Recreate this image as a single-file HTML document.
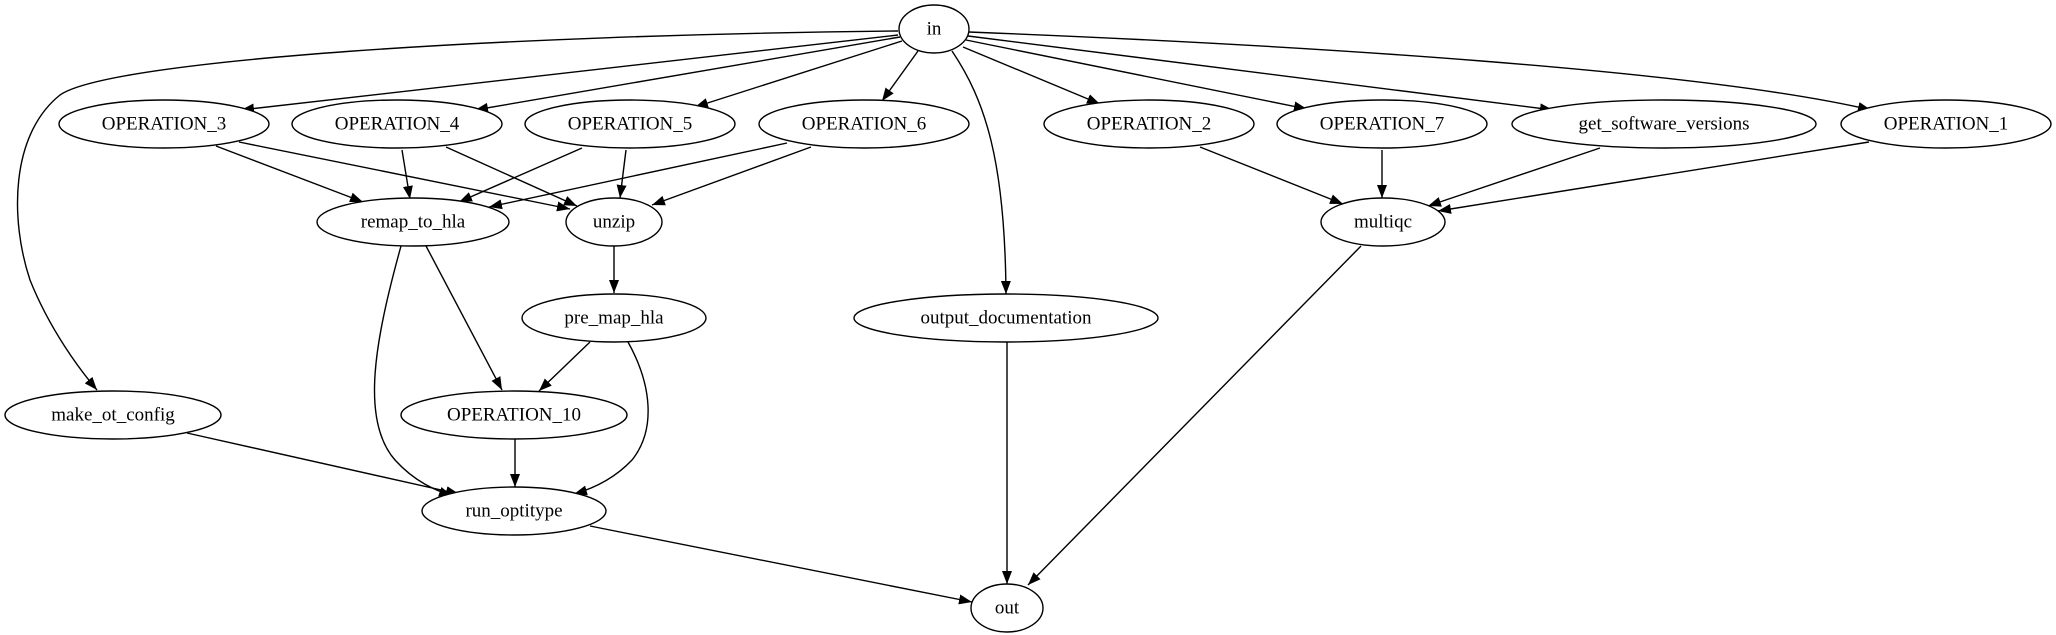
<!DOCTYPE html>
<html><head><meta charset="utf-8"><style>
html,body{margin:0;padding:0;background:#fff;}
svg{display:block;}
text{font-family:"Liberation Serif",serif;font-size:19px;fill:#000;}
</style></head><body>
<svg width="2056" height="635" viewBox="0 0 2056 635" xmlns="http://www.w3.org/2000/svg">
<defs><marker id="a" markerUnits="userSpaceOnUse" markerWidth="14" markerHeight="11" refX="13" refY="5" orient="auto"><path d="M0,0 L13,5 L0,10 z" fill="#000"/></marker></defs>
<g fill="none" stroke="#000" stroke-width="1.4" marker-end="url(#a)">
<path d="M898,31 C500,35 110,60 60,95 C10,135 10,220 30,280 C50,330 80,370 97,390"/>
<path d="M898,35 L241,110"/>
<path d="M900,37 L475,110"/>
<path d="M902,41 L695,107"/>
<path d="M918,51 L882,101"/>
<path d="M952,51 C985,100 1005,160 1006,294"/>
<path d="M963,47 L1100,104"/>
<path d="M966,40 L1307,109"/>
<path d="M968,36 L1553,110"/>
<path d="M969,32 C1300,45 1700,70 1871,110"/>
<path d="M216,146 L363,202"/>
<path d="M239,142 L570,209"/>
<path d="M402,150 L410,199"/>
<path d="M446,147 L577,206"/>
<path d="M582,148 L459,202"/>
<path d="M626,150 L620,198"/>
<path d="M787,143 L489,207"/>
<path d="M811,147 L652,205"/>
<path d="M401,246 C375,340 360,420 395,460 C415,482 435,490 452,496"/>
<path d="M426,246 L502,390"/>
<path d="M614,246 L614,293"/>
<path d="M590,342 L539,391"/>
<path d="M628,342 C652,385 656,430 632,460 C615,478 595,488 574,494"/>
<path d="M515,439 L515,487"/>
<path d="M187,433 L459,494"/>
<path d="M590,526 L972,602"/>
<path d="M1007,342 L1007,584"/>
<path d="M1200,147 L1343,204"/>
<path d="M1382,150 L1382,198"/>
<path d="M1600,148 L1428,206"/>
<path d="M1869,142 L1438,211"/>
<path d="M1361,246 L1028,585"/>
</g>
<g fill="#fff" stroke="#000" stroke-width="1.4">
<ellipse cx="934" cy="29" rx="35" ry="24"/>
<ellipse cx="164" cy="124" rx="105" ry="24"/>
<ellipse cx="397" cy="124" rx="105" ry="24"/>
<ellipse cx="630" cy="124" rx="105" ry="24"/>
<ellipse cx="864" cy="124" rx="105" ry="24"/>
<ellipse cx="1149" cy="124" rx="105" ry="24"/>
<ellipse cx="1382" cy="124" rx="105" ry="24"/>
<ellipse cx="1664" cy="124" rx="152" ry="24"/>
<ellipse cx="1946" cy="124" rx="105" ry="24"/>
<ellipse cx="413" cy="222" rx="96" ry="24"/>
<ellipse cx="614" cy="222" rx="48" ry="24"/>
<ellipse cx="1383" cy="222" rx="62" ry="24"/>
<ellipse cx="614" cy="318" rx="92" ry="24"/>
<ellipse cx="1006" cy="318" rx="152" ry="24"/>
<ellipse cx="113" cy="415" rx="108" ry="24"/>
<ellipse cx="514" cy="415" rx="113" ry="24"/>
<ellipse cx="514" cy="511" rx="92" ry="24"/>
<ellipse cx="1007" cy="608" rx="36" ry="24"/>
</g>
<g text-anchor="middle" dominant-baseline="central">
<text x="934" y="29">in</text>
<text x="164" y="124">OPERATION_3</text>
<text x="397" y="124">OPERATION_4</text>
<text x="630" y="124">OPERATION_5</text>
<text x="864" y="124">OPERATION_6</text>
<text x="1149" y="124">OPERATION_2</text>
<text x="1382" y="124">OPERATION_7</text>
<text x="1664" y="124">get_software_versions</text>
<text x="1946" y="124">OPERATION_1</text>
<text x="413" y="222">remap_to_hla</text>
<text x="614" y="222">unzip</text>
<text x="1383" y="222">multiqc</text>
<text x="614" y="318">pre_map_hla</text>
<text x="1006" y="318">output_documentation</text>
<text x="113" y="415">make_ot_config</text>
<text x="514" y="415">OPERATION_10</text>
<text x="514" y="511">run_optitype</text>
<text x="1007" y="608">out</text>
</g>
</svg>
</body></html>
